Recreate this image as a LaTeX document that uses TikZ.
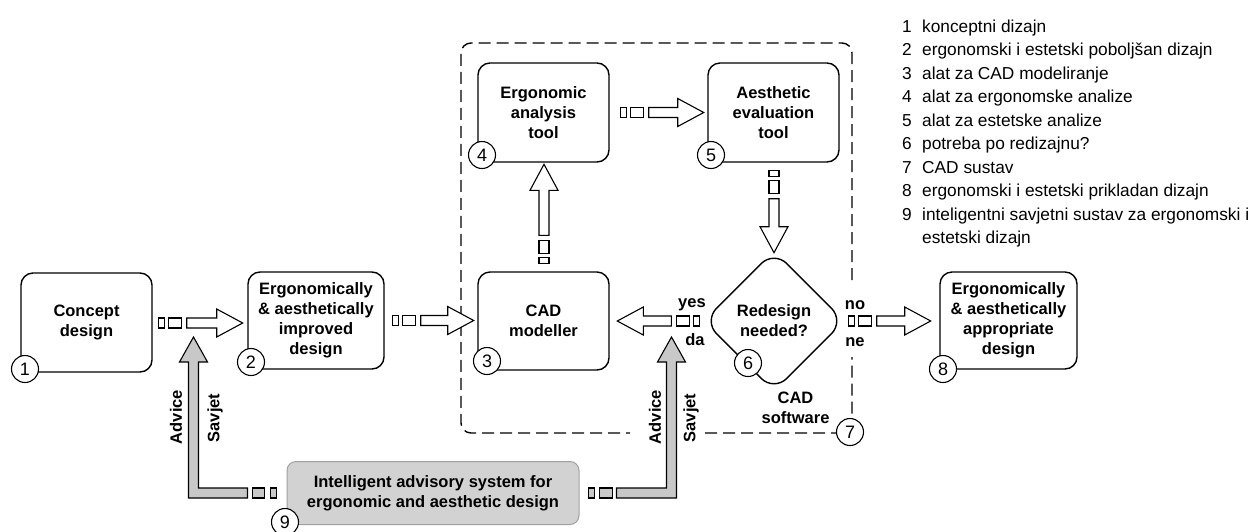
\documentclass[tikz,border=0pt]{standalone}
\usepackage{fontspec}
\setmainfont{Liberation Sans}
\usetikzlibrary{calc,shapes.geometric}
\definecolor{arrowgray}{HTML}{C8C8C8}
\definecolor{boxgray}{HTML}{D2D2D2}
\definecolor{bordergray}{HTML}{A0A0A0}
\newcommand\boxfont{\fontsize{16.5}{20}\selectfont\bfseries}
\newcommand\numfont{\fontsize{18}{20}\selectfont}
\newcommand\legfont{\fontsize{17.3}{23.5}\selectfont}
% block arrow: #1 style, #2 start point, #3 angle, #4 total length
\newcommand\blockarrow[4]{%
  \begin{scope}[shift={#2}, rotate=#3]
    \draw[#1] (0,-5) rectangle (6,5);
    \draw[#1] (10,-5) rectangle (23,5);
    \draw[#1] (28,-5) -- ({#4-26},-5) -- ({#4-26},-14) -- (#4,0) -- ({#4-26},14) -- ({#4-26},5) -- (28,5) -- cycle;
  \end{scope}}
\begin{document}
\begin{tikzpicture}[x=1pt,y=-1pt,
  box/.style={draw, line width=1.4pt, rounded corners=12pt, inner sep=0pt, align=center, font=\boxfont},
  dia/.style={draw, line width=1.4pt, diamond, aspect=1, rounded corners=18pt, inner sep=0pt, align=center, font=\boxfont, minimum width=141pt, minimum height=141pt},
  num/.style={draw, circle, fill=white, line width=1.1pt, minimum size=27pt, inner sep=0pt, font=\numfont},
  lab/.style={font=\boxfont, inner sep=0pt},
  barw/.style={draw, line width=1.1pt, fill=white},
  bgray/.style={draw, line width=1.1pt, fill=arrowgray},
  frame/.style={draw, line width=1.4pt, dash pattern=on 12pt off 6pt, rounded corners=10pt},
]
\useasboundingbox (0,0) rectangle (1258,531);

% CAD software frame
\draw[frame] (852,280) -- (852,43) -- (461,43) -- (461,433) -- (630,433);
\draw[frame] (705,433) -- (852,433) -- (852,357);

% main boxes
\node[box, minimum width=131, minimum height=99] (c1) at (86.5,322.5) {Concept\\design};
\node[box, minimum width=136, minimum height=97] (c2) at (316,320.5) {Ergonomically\\\& aesthetically\\improved\\design};
\node[box, minimum width=131, minimum height=98] (c3) at (543.5,321) {CAD\\modeller};
\node[box, minimum width=131, minimum height=99] (c4) at (543.5,112.5) {Ergonomic\\analysis\\tool};
\node[box, minimum width=131, minimum height=99] (c5) at (773.5,112.5) {Aesthetic\\evaluation\\tool};
\node[dia] (c6) at (774,321) {Redesign\\needed?};
\node[box, minimum width=137, minimum height=97] (c8) at (1008.5,320.5) {Ergonomically\\\& aesthetically\\appropriate\\design};
\node[box, fill=boxgray, draw=bordergray, line width=1pt, rounded corners=9pt, minimum width=292, minimum height=63] (c9) at (433,493) {Intelligent advisory system for\\ergonomic and aesthetic design};

% white block arrows
\blockarrow{barw}{($(c1.east)+(6,0.5)$)}{0}{84}
\blockarrow{barw}{($(c2.east)+(8,0)$)}{0}{81}
\blockarrow{barw}{($(c4.east)+(11,0)$)}{0}{83}
\blockarrow{barw}{($(c3.north)+(0.5,-8)$)}{90}{99}
\blockarrow{barw}{($(c5.south)+(0.5,8)$)}{-90}{82}
\blockarrow{barw}{($(c6.west)+(-3.5,0)$)}{180}{82}
\blockarrow{barw}{($(c6.east)+(3.5,0)$)}{0}{82}

% gray advice arrows
\begin{scope}[shift={(c9.west)}]
  \draw[bgray] (-16,-5) rectangle (-10,5);
  \draw[bgray] (-34,-5) rectangle (-22,5);
  \draw[bgray] (-39,-5) -- (-88,-5) -- (-88,-131) -- (-79,-131) -- (-93,-156) -- (-107,-131) -- (-98,-131) -- (-98,5) -- (-39,5) -- cycle;
\end{scope}
\begin{scope}[shift={(c9.east)}]
  \draw[bgray] (9,-5) rectangle (15,5);
  \draw[bgray] (20,-5) rectangle (33,5);
  \draw[bgray] (37,-5) -- (87,-5) -- (87,-131) -- (78,-131) -- (92,-156) -- (106,-131) -- (97,-131) -- (97,5) -- (37,5) -- cycle;
\end{scope}

% labels
\node[lab, rotate=90] (adv1) at (176,417) {Advice};
\node[lab, rotate=90] (sav1) at (215,418) {Savjet};
\node[lab, rotate=90] (adv2) at (655,417) {Advice};
\node[lab, rotate=90] (sav2) at (691,418) {Savjet};
\node[lab, anchor=base] (yes) at (692,307) {yes};
\node[lab, anchor=base] (da) at (695,345) {da};
\node[lab, anchor=base] (no) at (855,309) {no};
\node[lab, anchor=base] (ne) at (855,346.5) {ne};
\node[lab, align=center] (cads) at (795.5,407.5) {CAD\\software};

% number circles
\node[num] (n1) at (25,369) {1};
\node[num] (n2) at (251,362) {2};
\node[num] (n3) at (487,361) {3};
\node[num] (n4) at (482,155) {4};
\node[num] (n5) at (711,155) {5};
\node[num] (n6) at (748,363) {6};
\node[num] (n7) at (850,432) {7};
\node[num] (n8) at (943,369) {8};
\node[num] (n9) at (285,522) {9};

% legend
\node[anchor=base west, inner sep=0pt, font=\legfont] (legend) at (902,32) {%
\begin{tabular}[t]{@{}p{20pt}@{}l@{}}
1 & konceptni dizajn\\
2 & ergonomski i estetski poboljšan dizajn\\
3 & alat za CAD modeliranje\\
4 & alat za ergonomske analize\\
5 & alat za estetske analize\\
6 & potreba po redizajnu?\\
7 & CAD sustav\\
8 & ergonomski i estetski prikladan dizajn\\
9 & inteligentni savjetni sustav za ergonomski i\\
  & estetski dizajn
\end{tabular}};
\end{tikzpicture}
\end{document}
